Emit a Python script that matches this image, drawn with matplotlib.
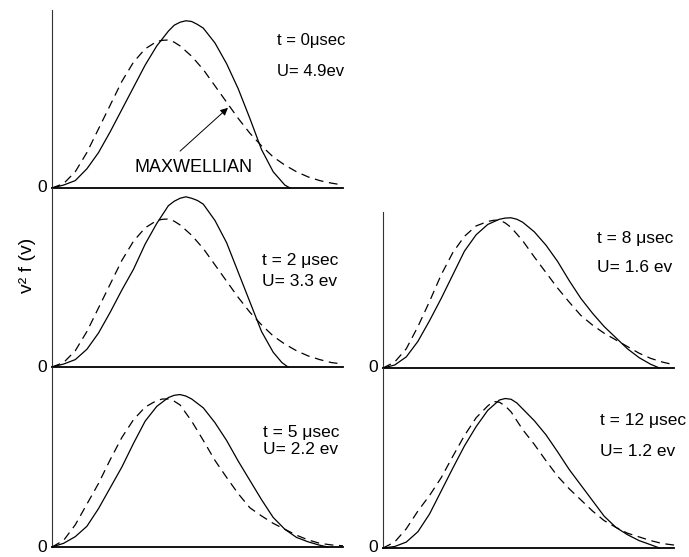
import matplotlib
matplotlib.use("Agg")
import matplotlib.pyplot as plt
from matplotlib.transforms import IdentityTransform
from matplotlib.patches import FancyArrowPatch

plt.rcParams['font.family'] = ['Liberation Sans', 'DejaVu Sans']

# common normalized speed grid (axis width = 1)
v = [0.00, 0.04, 0.08, 0.12, 0.16, 0.20, 0.24, 0.28, 0.32, 0.36, 0.38, 0.40, 0.42, 0.44,
     0.48, 0.52, 0.56, 0.60, 0.64, 0.68, 0.72, 0.76, 0.80, 0.84, 0.88, 0.92, 0.96, 1.00]

# Maxwellian (dashed) curves, normalized so the Maxwellian peak ~ 1
maxw_0 = [0, 0.03, 0.11, 0.24, 0.40, 0.56, 0.72, 0.85, 0.94, 0.99, 0.998, 1.00, 0.985, 0.96,
          0.89, 0.80, 0.69, 0.58, 0.47, 0.37, 0.285, 0.21, 0.155, 0.11, 0.075, 0.05, 0.033, 0.02]
maxw_2 = [0, 0.03, 0.11, 0.24, 0.40, 0.56, 0.72, 0.85, 0.94, 0.99, 0.998, 1.00, 0.985, 0.96,
          0.89, 0.80, 0.69, 0.58, 0.47, 0.37, 0.285, 0.21, 0.155, 0.11, 0.075, 0.05, 0.03, 0.02]
maxw_5 = [0, 0.045, 0.15, 0.29, 0.43, 0.59, 0.74, 0.86, 0.945, 0.99, 1.00, 1.00, 0.985, 0.96,
          0.85, 0.72, 0.585, 0.47, 0.36, 0.265, 0.21, 0.16, 0.12, 0.08, 0.048, 0.025, 0.014, 0.008]
maxw_8 = [0, 0.04, 0.13, 0.28, 0.45, 0.63, 0.78, 0.89, 0.96, 0.99, 0.998, 1.00, 0.98, 0.95,
          0.86, 0.75, 0.645, 0.54, 0.445, 0.355, 0.29, 0.235, 0.19, 0.145, 0.10, 0.065, 0.04, 0.022]
maxw_12 = [0, 0.04, 0.13, 0.25, 0.355, 0.475, 0.62, 0.76, 0.88, 0.96, 0.99, 0.985, 0.96, 0.92,
           0.80, 0.70, 0.59, 0.485, 0.40, 0.325, 0.25, 0.185, 0.14, 0.10, 0.075, 0.05, 0.03, 0.02]

# computed distributions (solid)
v_s0 = [0.00, 0.04, 0.08, 0.12, 0.16, 0.20, 0.24, 0.28, 0.32, 0.36, 0.40, 0.42, 0.44, 0.46,
        0.48, 0.50, 0.52, 0.56, 0.60, 0.64, 0.68, 0.72, 0.76, 0.80, 0.818]
f_s0 = [0, 0.02, 0.05, 0.13, 0.24, 0.38, 0.53, 0.68, 0.83, 0.96, 1.06, 1.10, 1.12, 1.13,
        1.125, 1.105, 1.08, 0.98, 0.84, 0.67, 0.47, 0.26, 0.11, 0.02, 0]
v_s2 = [0.00, 0.04, 0.08, 0.12, 0.16, 0.20, 0.24, 0.28, 0.32, 0.36, 0.40, 0.42, 0.44, 0.46,
        0.48, 0.50, 0.52, 0.56, 0.60, 0.64, 0.68, 0.72, 0.76, 0.79, 0.811]
f_s2 = [0, 0.02, 0.05, 0.12, 0.23, 0.37, 0.52, 0.66, 0.83, 0.97, 1.09, 1.12, 1.14, 1.15,
        1.14, 1.125, 1.10, 0.99, 0.84, 0.64, 0.44, 0.24, 0.10, 0.03, 0]
v_s5 = [0.00, 0.04, 0.08, 0.12, 0.16, 0.20, 0.24, 0.28, 0.32, 0.36, 0.40, 0.42, 0.44, 0.46,
        0.48, 0.52, 0.56, 0.60, 0.64, 0.68, 0.72, 0.76, 0.80, 0.84, 0.88, 0.92, 0.948]
f_s5 = [0, 0.025, 0.07, 0.14, 0.26, 0.40, 0.54, 0.70, 0.85, 0.95, 1.01, 1.025, 1.03, 1.02,
        1.00, 0.94, 0.84, 0.72, 0.58, 0.45, 0.32, 0.20, 0.12, 0.065, 0.035, 0.012, 0]
v_s8 = [0.00, 0.04, 0.08, 0.12, 0.16, 0.20, 0.24, 0.28, 0.32, 0.36, 0.40, 0.42, 0.44, 0.46,
        0.48, 0.52, 0.56, 0.60, 0.64, 0.68, 0.72, 0.76, 0.80, 0.84, 0.88, 0.92, 0.95]
f_s8 = [0, 0.02, 0.075, 0.18, 0.32, 0.47, 0.63, 0.79, 0.90, 0.97, 1.005, 1.013, 1.015, 1.005,
        0.985, 0.92, 0.83, 0.72, 0.59, 0.47, 0.37, 0.28, 0.205, 0.13, 0.07, 0.025, 0]
v_s12 = [0.00, 0.04, 0.08, 0.12, 0.16, 0.20, 0.24, 0.28, 0.32, 0.36, 0.40, 0.42, 0.44, 0.46,
         0.48, 0.52, 0.56, 0.60, 0.64, 0.68, 0.72, 0.76, 0.80, 0.84, 0.88, 0.92, 0.95]
f_s12 = [0, 0.01, 0.04, 0.11, 0.23, 0.385, 0.54, 0.69, 0.82, 0.93, 1.00, 1.01, 1.005, 0.98,
         0.94, 0.86, 0.765, 0.65, 0.53, 0.425, 0.32, 0.215, 0.14, 0.09, 0.05, 0.022, 0]

time_labels = ["t = 0μsec", "t = 2 μsec", "t = 5 μsec", "t = 8 μsec", "t = 12 μsec"]
energy_labels = ["U= 4.9ev", "U= 3.3 ev", "U= 2.2 ev", "U= 1.6 ev", "U= 1.2 ev"]
ylabel_text = "v² f (v)"
maxw_label = "MAXWELLIAN"

W, H = 689, 557
fig = plt.figure(figsize=(W / 100, H / 100), dpi=100)
PX = IdentityTransform()
UNIT = 148.0  # pixels per unit of f

# (left, top, right, bottom) in pixels
boxes = [(52, 10, 343, 188), (52, 188, 343, 367), (52, 367, 343, 547),
         (383, 212, 674, 368), (383, 368, 674, 548)]
solids = [(v_s0, f_s0), (v_s2, f_s2), (v_s5, f_s5), (v_s8, f_s8), (v_s12, f_s12)]
dashed = [maxw_0, maxw_2, maxw_5, maxw_8, maxw_12]
# text positions (x, y_t, y_U) in pixels
tpos = [(277, 40, 72), (262, 260, 282), (263, 433, 450), (597, 238, 268), (600, 420, 451)]
tsize = [12, 12.5, 12.5, 12.5, 12.5]

for i, (l, t, r, b) in enumerate(boxes):
    ax = fig.add_axes([l / W, 1 - b / H, (r - l) / W, (b - t) / H])
    ax.set_xlim(0, 1)
    ax.set_ylim(0, (b - t) / UNIT)
    for s in ['top', 'right']:
        ax.spines[s].set_visible(False)
    ax.spines['bottom'].set_linewidth(1.3)
    ax.spines['left'].set_linewidth(0.8)
    ax.spines['left'].set_color('#333333')
    ax.set_xticks([])
    ax.set_yticks([])
    ax.patch.set_alpha(0)
    sv, sf = solids[i]
    ax.plot(sv, sf, color='k', lw=0.9, solid_joinstyle='round', clip_on=False)
    ax.plot(v, dashed[i], color='k', lw=0.9, ls=(0, (7, 4.5)), clip_on=False)
    fig.text(l - 10, H - b, "0", ha='center', va='center', fontsize=12.5, transform=PX)
    x, yt, yu = tpos[i]
    fig.text(x, H - yt, time_labels[i], ha='left', va='center', fontsize=tsize[i],
             transform=PX)
    fig.text(x, H - yu, energy_labels[i], ha='left', va='center', fontsize=tsize[i],
             transform=PX)

fig.text(28, H - 265, ylabel_text, rotation=90, ha='center', va='center',
         fontsize=14, transform=PX)
fig.text(194, H - 167, maxw_label, ha='center', va='center', fontsize=13,
         transform=PX)
fig.patches.append(FancyArrowPatch(
    (178, H - 153), (230, H - 106), transform=PX, arrowstyle='-|>',
    mutation_scale=11, lw=0.7, color='k'))

fig.savefig("out.png", dpi=100)
